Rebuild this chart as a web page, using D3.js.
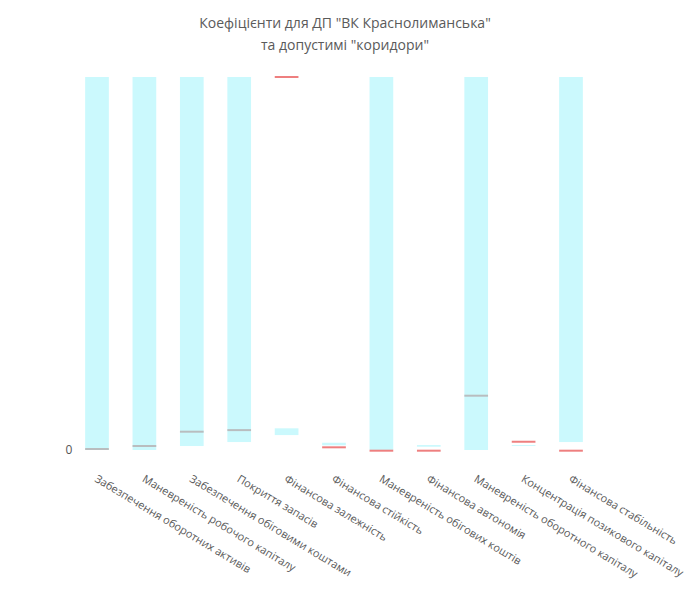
<!DOCTYPE html>
<html>
<head>
<meta charset="utf-8">
<script src="https://cdn.jsdelivr.net/npm/d3@7"></script>
<style>
  html, body { margin: 0; padding: 0; background: #fff; }
  svg { display: block; font-family: "Open Sans", sans-serif; }
</style>
</head>
<body>
<svg id="chart" width="690" height="590"></svg>
<script>
// ---- data ----
const titleLines = ['Коефіцієнти для ДП "ВК Краснолиманська"', 'та допустимі "коридори"'];
const categories = [
  "Забезпечення оборотних активів",
  "Маневреність робочого капіталу",
  "Забезпечення обіговими коштами",
  "Покриття запасів",
  "Фінансова залежність",
  "Фінансова стійкість",
  "Маневреність обігових коштів",
  "Фінансова автономія",
  "Маневреність оборотного капіталу",
  "Концентрація позикового капіталу",
  "Фінансова стабільність"
];
const corridorLow  = [0,    0,    0.4,  0.8,  1.5,  0.47, 0,     0.33, 0,    0.4,  0.8];
const corridorHigh = [37.5, 37.5, 37.5, 37.5, 2.18, 0.73, 37.5,  0.5,  37.5, 0.5,  37.5];
const actualValues = [0.1,  0.4,  1.84, 2.0,  37.5, 0.27, -0.07, -0.07, 5.46, 0.83, -0.07];
const yDomain = [0, 37.5];
const yTickValues = [0];

// ---- layout ----
const svg = d3.select("#chart");
const plot = { left: 73.3, right: 594.7, top: 77, bottom: 450 };

const x = d3.scaleBand()
  .domain(categories)
  .range([plot.left, plot.right])
  .paddingInner(0.5)
  .paddingOuter(0.25);

const y = d3.scaleLinear()
  .domain(yDomain)
  .range([plot.bottom, plot.top]);

// title
const title = svg.append("text")
  .attr("x", 345)
  .attr("y", 28)
  .attr("text-anchor", "middle")
  .attr("font-size", 14)
  .attr("fill", "#5a5a5a");
titleLines.forEach((t, i) => {
  title.append("tspan").attr("x", 345).attr("dy", i === 0 ? 0 : 22).text(t);
});

// corridor bars
const rows = categories.map((c, i) => ({
  cat: c, low: corridorLow[i], high: corridorHigh[i], val: actualValues[i]
}));

svg.append("g").selectAll("rect")
  .data(rows)
  .join("rect")
  .attr("x", d => x(d.cat))
  .attr("width", x.bandwidth())
  .attr("y", d => y(d.high))
  .attr("height", d => Math.max(0, y(d.low) - y(d.high)))
  .attr("fill", "#cbf9fd");

// actual value lines
svg.append("g").selectAll("line")
  .data(rows)
  .join("line")
  .attr("x1", d => x(d.cat))
  .attr("x2", d => x(d.cat) + x.bandwidth())
  .attr("y1", d => y(d.val))
  .attr("y2", d => y(d.val))
  .attr("stroke", d => (d.val >= d.low && d.val <= d.high) ? "#b9bdbf" : "#ee7f7f")
  .attr("stroke-width", 2);

// y axis (only 0 tick label)
const yAxis = d3.axisLeft(y).tickValues(yTickValues).tickSize(0).tickPadding(0).tickFormat(d3.format("d"));
const gy = svg.append("g").attr("transform", `translate(${plot.left - 1},0)`).call(yAxis);
gy.select(".domain").remove();
gy.selectAll("text").attr("font-size", 12).attr("fill", "#555").attr("font-family", '"Open Sans", sans-serif');

// x axis labels rotated
const xAxis = d3.axisBottom(x).tickSize(0).tickPadding(0);
const gx = svg.append("g").attr("transform", `translate(0,${plot.bottom})`).call(xAxis);
gx.select(".domain").remove();
gx.selectAll(".tick text")
  .attr("font-size", 11)
  .attr("fill", "#5a5a5a")
  .attr("font-family", '"Open Sans", sans-serif')
  .attr("text-anchor", "start")
  .attr("dy", null)
  .attr("y", 0)
  .attr("x", 0)
  .attr("transform", "translate(-3,31) rotate(31)");
</script>
</body>
</html>
